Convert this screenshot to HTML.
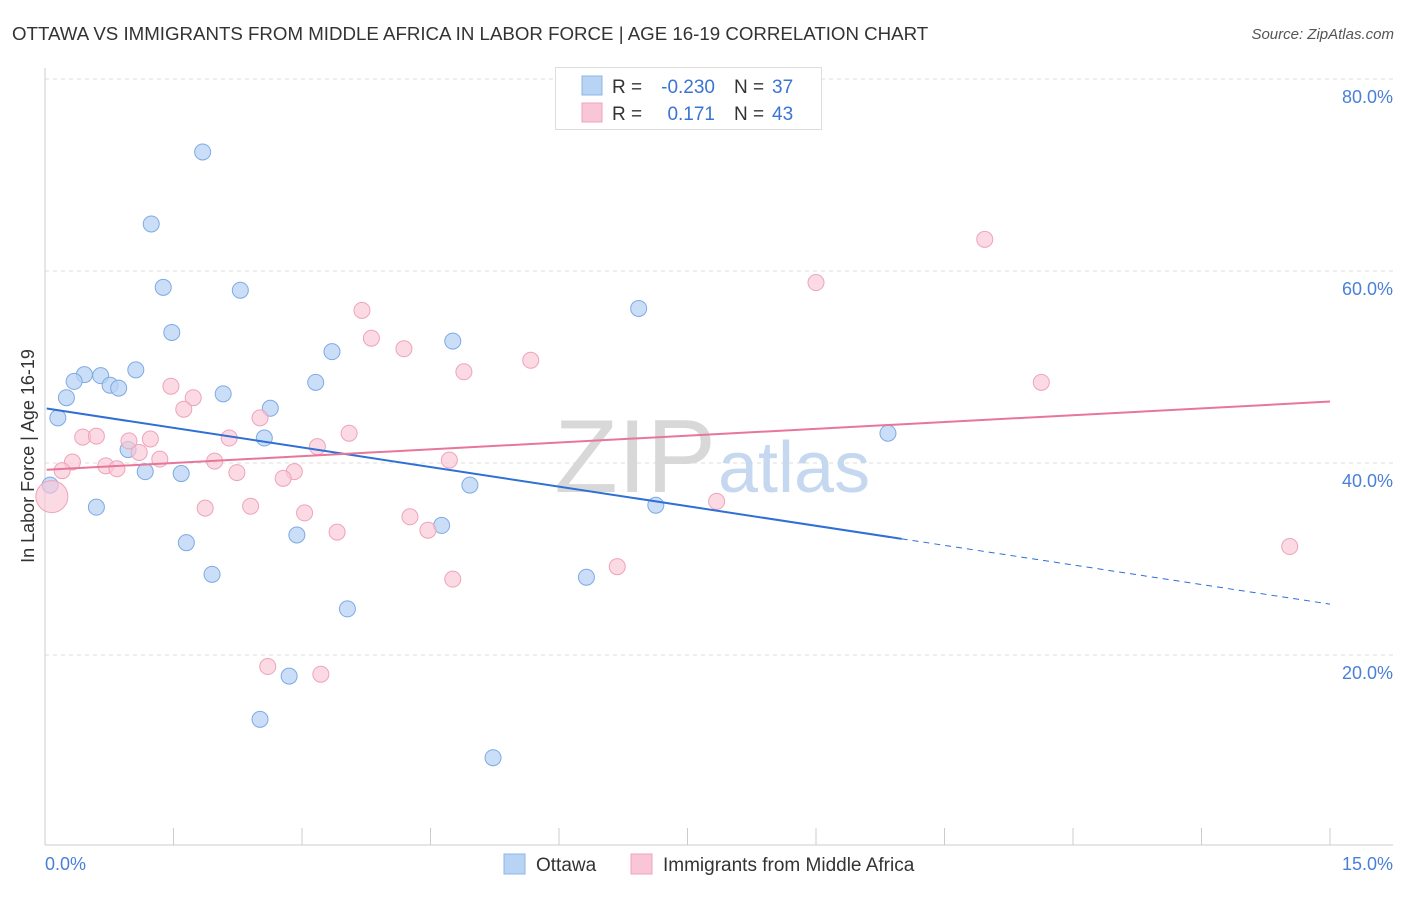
<!DOCTYPE html>
<html><head><meta charset="utf-8"><style>
body{margin:0;background:#fff;font-family:"Liberation Sans",sans-serif;}
svg text{font-family:"Liberation Sans",sans-serif;}
</style></head><body>
<svg width="1406" height="892" xmlns="http://www.w3.org/2000/svg" id="chart">
<text x="12" y="40" font-size="18.7" fill="#333">OTTAWA VS IMMIGRANTS FROM MIDDLE AFRICA IN LABOR FORCE | AGE 16-19 CORRELATION CHART</text>
<text x="1394" y="39" font-size="15" fill="#555" font-style="italic" text-anchor="end">Source: ZipAtlas.com</text>
<g id="grid"></g>
<text x="716" y="492" font-size="104" fill="#d8d8d8" font-family="Liberation Serif" text-anchor="end">ZIP</text>
<text x="718" y="492" font-size="72" fill="#c5d8ef">atlas</text>
<line x1="45" y1="68" x2="45" y2="845" stroke="#ccc"/>
<line x1="45" y1="845" x2="1393" y2="845" stroke="#ccc"/>
<g id="xticks"></g>
<g id="ylabels"></g>
<text x="45" y="870" font-size="18" fill="#4a7fd8">0.0%</text>
<text x="1393" y="870" font-size="18" fill="#4a7fd8" text-anchor="end">15.0%</text>
<text transform="translate(34,456) rotate(-90)" font-size="18" fill="#333" text-anchor="middle">In Labor Force | Age 16-19</text>
<g id="pts"></g>
<g id="lines"></g>
<g>
<rect x="555.5" y="67.5" width="266" height="62" fill="#fff" stroke="#ddd"/>
<rect x="582" y="76" width="20" height="19" fill="#b9d3f5" stroke="#8db4e8"/>
<rect x="582" y="103" width="20" height="19" fill="#f9c6d6" stroke="#eea3bc"/>
<text x="612" y="93" font-size="19" fill="#333">R =</text>
<text x="715" y="93" font-size="19" fill="#3a74d4" text-anchor="end">-0.230</text>
<text x="734" y="93" font-size="19" fill="#333">N =</text>
<text x="772" y="93" font-size="19" fill="#3a74d4">37</text>
<text x="612" y="120" font-size="19" fill="#333">R =</text>
<text x="715" y="120" font-size="19" fill="#3a74d4" text-anchor="end">0.171</text>
<text x="734" y="120" font-size="19" fill="#333">N =</text>
<text x="772" y="120" font-size="19" fill="#3a74d4">43</text>
</g>
<g>
<rect x="504" y="854" width="21" height="20" fill="#b9d3f5" stroke="#8db4e8"/>
<text x="536" y="871" font-size="19" fill="#333">Ottawa</text>
<rect x="631" y="854" width="21" height="20" fill="#f9c6d6" stroke="#eea3bc"/>
<text x="663" y="871" font-size="19" fill="#333">Immigrants from Middle Africa</text>
</g>
</svg>
<script>
const yTicks=[20,40,60,80];
const xTickCount=10;
const ottawaX=[1.84,1.24,1.38,2.28,1.48,3.35,4.76,6.93,1.06,0.46,0.34,0.65,0.76,0.86,3.16,2.08,0.25,0.15,2.63,2.56,0.97,1.17,1.59,0.06,4.96,0.60,7.13,9.84,4.63,1.65,2.94,1.95,6.32,3.53,2.85,2.51,5.23];
const ottawaY=[72.4,64.9,58.3,58.0,53.6,51.6,52.7,56.1,49.7,49.2,48.5,49.1,48.1,47.8,48.4,47.2,46.8,44.7,45.7,42.6,41.4,39.1,38.9,37.7,37.7,35.4,35.6,43.1,33.5,31.7,32.5,28.4,28.1,24.8,17.8,13.3,9.3];
const immX=[10.97,9.0,3.70,3.81,4.19,5.67,4.89,11.63,1.47,1.73,1.62,2.51,0.44,0.60,1.23,0.98,2.15,3.55,3.18,1.10,0.32,1.34,1.98,0.71,0.84,0.20,4.72,2.91,2.24,2.78,0.08,2.40,1.87,3.03,7.84,4.26,3.41,4.47,6.68,4.76,14.53,2.60,3.22];
const immY=[63.3,58.8,55.9,53.0,51.9,50.7,49.5,48.4,48.0,46.8,45.6,44.7,42.7,42.8,42.5,42.3,42.6,43.1,41.7,41.1,40.1,40.4,40.2,39.7,39.4,39.2,40.3,39.1,39.0,38.4,36.5,35.5,35.3,34.8,36.0,34.4,32.8,33.0,29.2,27.9,31.3,18.8,18.0];
const ottawaTrend=[45.7,25.3];
const immTrend=[39.3,46.4];
const ottawaSolidEnd=10.0;
const NS="http://www.w3.org/2000/svg";
const X=v=>45+v*(1285/15);
const Y=v=>847-v*9.6;
function mk(tag,attrs,parent){const e=document.createElementNS(NS,tag);for(const k in attrs)e.setAttribute(k,attrs[k]);document.getElementById(parent).appendChild(e);return e;}
yTicks.forEach(t=>{
 const l=mk('line',{x1:45,x2:1393,y1:Y(t),y2:Y(t),stroke:'#ddd','stroke-dasharray':'4,4'},'grid');
 
 
 const tx=mk('text',{x:1393,y:Y(t)+24,'font-size':18,fill:'#4a7fd8','text-anchor':'end'},'ylabels');
 tx.textContent=t.toFixed(1)+'%';
 
 
});
for(let i=0;i<=xTickCount;i++){
 const v=15*i/xTickCount;
 const l=mk('line',{x1:X(v),x2:X(v),y1:828,y2:845,stroke:'#ccc'},'xticks');
 
 
}
ottawaX.forEach((x,i)=>{
 const c=mk('circle',{cx:X(x),cy:Y(ottawaY[i]),r:8,fill:'#b9d3f5','fill-opacity':0.75,stroke:'#7eaae3','stroke-width':1},'pts');
 
 
});
immX.forEach((x,i)=>{
 const r=(i===30)?16:8;
 const c=mk('circle',{cx:X(x),cy:Y(immY[i]),r:r,fill:'#f9c6d6','fill-opacity':0.65,stroke:'#eea3bc','stroke-width':1},'pts');
 
 
});
const ob=(x)=>ottawaTrend[0]+(ottawaTrend[1]-ottawaTrend[0])*x/15;
const l1=mk('line',{x1:X(0.02),y1:Y(ob(0.02)),x2:X(ottawaSolidEnd),y2:Y(ob(ottawaSolidEnd)),stroke:'#2f6fd6','stroke-width':2},'lines');


const l2=mk('line',{x1:X(ottawaSolidEnd),y1:Y(ob(ottawaSolidEnd)),x2:X(15),y2:Y(ob(15)),stroke:'#2f6fd6','stroke-width':1,'stroke-dasharray':'6,5'},'lines');


const l3=mk('line',{x1:X(0.02),y1:Y(immTrend[0]),x2:X(15),y2:Y(immTrend[1]),stroke:'#e8769a','stroke-width':2},'lines');


</script>
</body></html>
